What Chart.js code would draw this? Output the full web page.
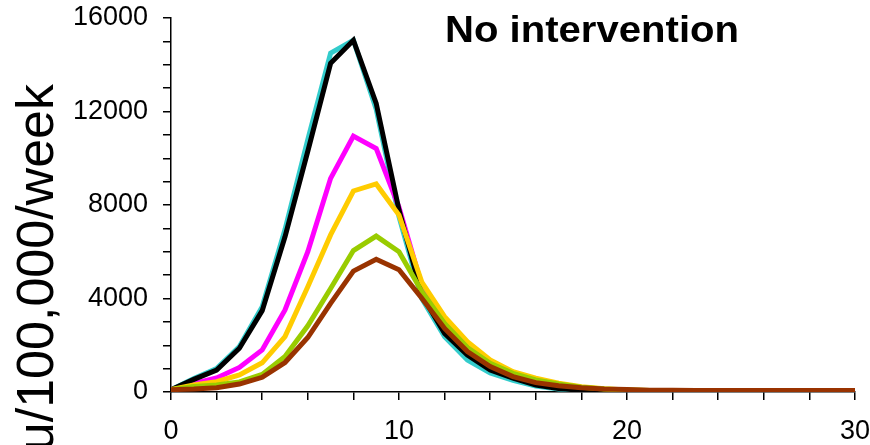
<!DOCTYPE html>
<html>
<head>
<meta charset="utf-8">
<script src="https://cdn.jsdelivr.net/npm/chart.js@4"></script>
<style>
  html, body { margin: 0; padding: 0; background: #fff; }
  canvas { display: block; }
</style>
</head>
<body>
<canvas id="c" width="870" height="445"></canvas>
<script>
// Weeks (x values)
const weeks = [0,1,2,3,4,5,6,7,8,9,10,11,12,13,14,15,16,17,18,19,20,21,22,23,24,25,26,27,28,29,30];

// Series values (flu cases per 100,000 per week)
const cyanSeries    = [100,580,1000,1950,3650,6950,10800,14500,15050,12100,7500,4000,2370,1370,820,500,260,130,60,40,30,20,20,20,20,20,20,20,20,20,20];
const blackSeries   = [100,540,940,1870,3480,6640,10300,14060,15050,12350,7790,4150,2510,1580,940,590,300,150,70,40,30,20,20,20,20,20,20,20,20,20,20];
const magentaSeries = [100,370,600,1050,1800,3510,6000,9140,10950,10420,7900,4550,3000,2000,1250,780,480,300,170,100,60,40,30,30,30,30,30,30,30,30,30];
const yellowSeries  = [100,300,440,730,1250,2370,4500,6720,8600,8900,7570,4700,3220,2150,1370,870,590,380,230,140,90,60,40,40,40,40,40,40,40,40,40];
const greenSeries   = [100,235,300,430,750,1520,2830,4430,6050,6670,6000,4300,2930,1900,1230,800,520,340,200,130,90,60,50,50,50,50,50,50,50,50,50];
const brownSeries   = [100,130,185,340,630,1260,2330,3790,5170,5680,5230,4010,2720,1730,1090,660,400,270,185,130,110,80,70,60,60,60,60,60,60,60,60];

// Tick label values
const yLabelValues = [0,4000,8000,12000,16000];
const xLabelValues = [0,10,20,30];

const chartTitle = "No intervention";
const yAxisTitle = "Flu/100,000/week";

function pts(arr) { return weeks.map((w, i) => ({ x: w, y: arr[i] })); }

// index 0 is drawn on top
const datasets = [
  { data: pts(brownSeries),   borderColor: '#993300' },
  { data: pts(greenSeries),   borderColor: '#99CC00' },
  { data: pts(yellowSeries),  borderColor: '#FFCC00' },
  { data: pts(blackSeries),   borderColor: '#000000' },
  { data: pts(magentaSeries), borderColor: '#FF00FF' },
  { data: pts(cyanSeries),    borderColor: '#33CCCC' }
];

const textPlugin = {
  id: 'texts',
  afterDraw(chart) {
    const ctx = chart.ctx;
    // Chart title inside plot area
    ctx.save();
    ctx.fillStyle = '#000';
    ctx.font = 'bold 36px "Liberation Sans", Arial, sans-serif';
    ctx.textAlign = 'center';
    ctx.textBaseline = 'alphabetic';
    const tw = ctx.measureText(chartTitle).width;
    const sx = 294 / tw;
    ctx.translate(592, 42);
    ctx.scale(sx, 1);
    ctx.fillText(chartTitle, 0, 0);
    ctx.restore();
    // Y axis title (rotated)
    ctx.save();
    ctx.fillStyle = '#000';
    ctx.font = '52px "Liberation Sans", Arial, sans-serif';
    ctx.textAlign = 'right';
    ctx.textBaseline = 'alphabetic';
    ctx.translate(53, 84);
    ctx.rotate(-Math.PI / 2);
    ctx.fillText(yAxisTitle, 0, 0);
    ctx.restore();
  }
};

const tickFont = { family: '"Liberation Sans", Arial, sans-serif', size: 27 };

function noPad(s) { s.paddingTop = 0; s.paddingBottom = 0; s.paddingLeft = 0; s.paddingRight = 0; }

new Chart(document.getElementById('c'), {
  type: 'line',
  data: { datasets },
  options: {
    responsive: false,
    animation: false,
    devicePixelRatio: 1,
    layout: { padding: { left: 0, right: 15, top: 18, bottom: 0 } },
    plugins: { legend: { display: false }, tooltip: { enabled: false }, title: { display: false } },
    elements: {
      point: { radius: 0 },
      line: { tension: 0, borderWidth: 5, fill: false, borderJoinStyle: 'miter' }
    },
    scales: {
      x: {
        type: 'linear', min: 0, max: 30,
        ticks: {
          stepSize: 2, autoSkip: false, maxRotation: 0, color: '#000', font: tickFont, padding: 15,
          callback: v => xLabelValues.includes(v) ? String(v) : ''
        },
        grid: { drawOnChartArea: false, drawTicks: true, tickLength: 8, color: '#000', lineWidth: 1.5 },
        border: { color: '#000', width: 1.5 },
        afterFit: s => { s.height = 53; noPad(s); }
      },
      y: {
        min: 0, max: 16000,
        ticks: {
          stepSize: 1000, autoSkip: false, color: '#000', font: tickFont, padding: 15,
          callback: v => yLabelValues.includes(v) ? String(v) : ''
        },
        grid: { drawOnChartArea: false, drawTicks: true, tickLength: 8, color: '#000', lineWidth: 1.5 },
        border: { color: '#000', width: 1.5 },
        afterFit: s => { s.width = 171; noPad(s); }
      }
    }
  },
  plugins: [textPlugin]
});
</script>
</body>
</html>
